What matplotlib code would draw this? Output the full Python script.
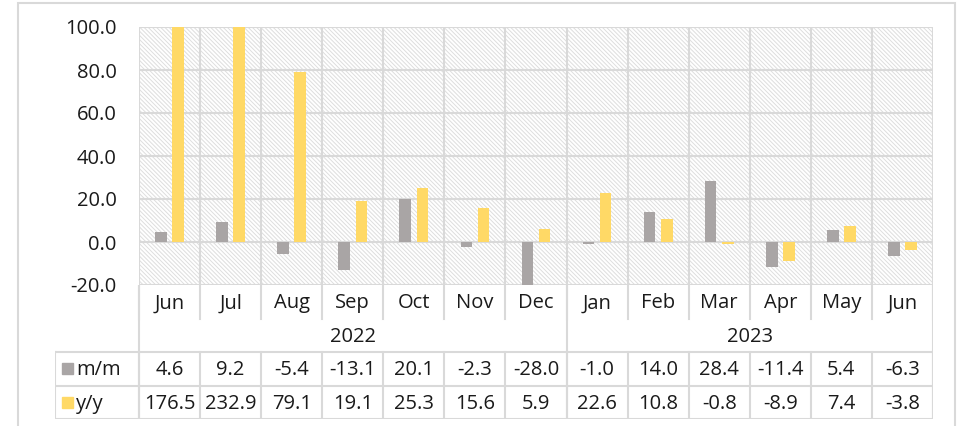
import numpy as np
import matplotlib
matplotlib.use('Agg')
import matplotlib.pyplot as plt
from matplotlib.patches import Rectangle

# 数据
months = ['Jun', 'Jul', 'Aug', 'Sep', 'Oct', 'Nov', 'Dec',
          'Jan', 'Feb', 'Mar', 'Apr', 'May', 'Jun']
years = ['2022', '2023']
year_spans = [7, 6]
mm = [4.6, 9.2, -5.4, -13.1, 20.1, -2.3, -28.0, -1.0, 14.0, 28.4, -11.4, 5.4, -6.3]
yy = [176.5, 232.9, 79.1, 19.1, 25.3, 15.6, 5.9, 22.6, 10.8, -0.8, -8.9, 7.4, -3.8]
yticks = [-20, 0, 20, 40, 60, 80, 100]

gray = '#a9a5a5'
yellow = '#ffd966'
grid_c = '#d9d9d9'
txt_c = '#1a1a1a'

plt.rcParams['font.family'] = ['Open Sans', 'DejaVu Sans']
plt.rcParams['hatch.linewidth'] = 0.7
fs = 14.5

W, H = 957, 426
fig = plt.figure(figsize=(W / 100, H / 100), dpi=100)

def fx(px):
    return px / W

def fy(py):
    return 1 - py / H

# 外框
fig.patches.append(Rectangle((fx(18), fy(440)), fx(955) - fx(18), fy(3) - fy(440),
                             transform=fig.transFigure, fill=False,
                             edgecolor=grid_c, lw=1.5))

pl, pr, pt, pb = 139, 933, 27, 285
ax = fig.add_axes([fx(pl), fy(pb), fx(pr) - fx(pl), fy(pt) - fy(pb)])
n = len(months)
x = np.arange(n)
ax.set_xlim(-0.5, n - 0.5)
ax.set_ylim(-20, 100)

# 斜线背景
ax.add_patch(Rectangle((0, 0), 1, 1, transform=ax.transAxes, facecolor='white',
                       edgecolor='#dedede', hatch=chr(92) * 8, lw=0, zorder=0))

for v in yticks:
    ax.axhline(v, color=grid_c, lw=1.5, zorder=1)
for b in np.arange(-0.5, n, 1.0):
    ax.axvline(b, color=grid_c, lw=1.5, zorder=1)

w = 0.19
ax.bar(x - 0.14, mm, width=w, color=gray, zorder=2)
ax.bar(x + 0.14, yy, width=w, color=yellow, zorder=2)

ax.set_yticks(yticks)
ax.set_yticklabels([f'{v:.1f}' for v in yticks], fontsize=fs, color=txt_c)
ax.tick_params(axis='y', length=0, pad=16)
ax.set_xticks([])
for s in ax.spines.values():
    s.set_visible(False)

# 数据表
tl = 55
unit = (pr - pl) / n
x0 = -0.5 - (pl - tl) / unit
tb = 419
tax = fig.add_axes([fx(tl), fy(tb), fx(pr) - fx(tl), fy(pb) - fy(tb)])
tax.set_xlim(x0, n - 0.5)
tax.set_ylim(0, 4)
tax.axis('off')

lk = dict(color=grid_c, lw=1.5)
# 月份行分隔
for b in np.arange(-0.5, n, 1.0):
    tax.plot([b, b], [3, 4], **lk)
tax.plot([n - 0.5, n - 0.5], [0, 4], **lk)
tax.plot([-0.5, -0.5], [0, 4], **lk)
# 年份分隔
tax.plot([6.5, 6.5], [0, 4], **lk)
for yl in [0, 1, 2]:
    tax.plot([x0, n - 0.5], [yl, yl], **lk)
tax.plot([x0, x0], [0, 2], **lk)
for b in np.arange(-0.5, n, 1.0):
    tax.plot([b, b], [0, 2], **lk)

for i, m in enumerate(months):
    tax.text(i, 3.45, m, ha='center', va='center', fontsize=fs, color=txt_c)
start = 0
for yr, sp in zip(years, year_spans):
    tax.text(start - 0.5 + sp / 2, 2.45, yr, ha='center', va='center', fontsize=fs, color=txt_c)
    start += sp
for i in range(n):
    tax.text(i, 1.45, f'{mm[i]:.1f}', ha='center', va='center', fontsize=fs, color=txt_c)
    tax.text(i, 0.45, f'{yy[i]:.1f}', ha='center', va='center', fontsize=fs, color=txt_c)

ks = 11 / unit
kh = 11 / 33.5
tax.add_patch(Rectangle((x0 + 7 / unit, 1.5 - kh / 2), ks, kh, color=gray))
tax.add_patch(Rectangle((x0 + 7 / unit, 0.5 - kh / 2), ks, kh, color=yellow))
tax.text(x0 + 21 / unit, 1.45, 'm/m', ha='left', va='center', fontsize=fs, color=txt_c)
tax.text(x0 + 21 / unit, 0.45, 'y/y', ha='left', va='center', fontsize=fs, color=txt_c)

fig.savefig('out.png', dpi=100)
